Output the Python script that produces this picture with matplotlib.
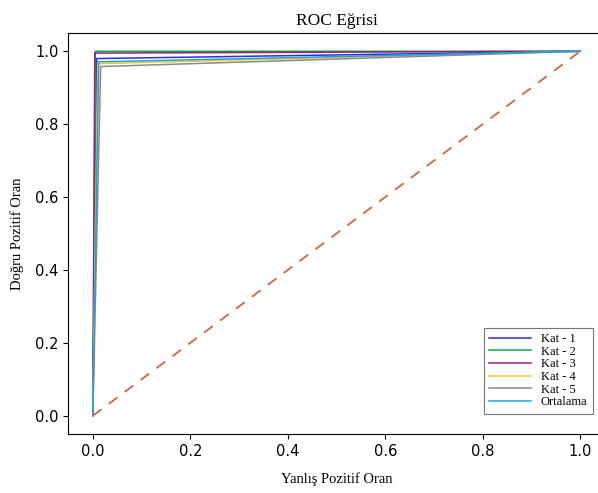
import matplotlib
matplotlib.use("Agg")
import matplotlib.pyplot as plt

# ROC noktalari: (0,0) -> (fpr, tpr) -> (1,1)
etiketler = ["Kat - 1", "Kat - 2", "Kat - 3", "Kat - 4", "Kat - 5", "Ortalama"]
fpr_list = [[0.0, 0.008, 1.0],
            [0.0, 0.005, 1.0],
            [0.0, 0.004, 1.0],
            [0.0, 0.010, 1.0],
            [0.0, 0.016, 1.0],
            [0.0, 0.012, 1.0]]
tpr_list = [[0.0, 0.980, 1.0],
            [0.0, 1.000, 1.0],
            [0.0, 0.995, 1.0],
            [0.0, 0.966, 1.0],
            [0.0, 0.958, 1.0],
            [0.0, 0.971, 1.0]]
renkler = ["#2b2bf0", "#10a84a", "#98206e", "#f5c82a", "#8a8a8a", "#1aa3e0"]

fig = plt.figure(figsize=(5.98, 4.93), dpi=100)
ax = fig.add_axes([0.1145, 0.1197, 0.8965, 0.8133])

for f, t, c, e in zip(fpr_list, tpr_list, renkler, etiketler):
    ax.plot(f, t, color=c, lw=1.1, label=e)

ax.plot([0, 1], [0, 1], linestyle=(0, (6, 5)), color="#d2643f", lw=1.3)

serif = ["Liberation Serif", "DejaVu Serif"]
ax.set_title("ROC Eğrisi", family=serif, fontsize=12.5, pad=6)
ax.set_xlabel("Yanlış Pozitif Oran", family=serif, fontsize=10.5, labelpad=10)
ax.set_ylabel("Doğru Pozitif Oran", family=serif, fontsize=10.5, labelpad=8)

ax.set_xticks([0, 0.2, 0.4, 0.6, 0.8, 1.0])
ax.set_yticks([0, 0.2, 0.4, 0.6, 0.8, 1.0])
ax.tick_params(labelsize=10.5)
ax.spines["right"].set_visible(False)  # resim sagdan kirpilmis

leg = ax.legend(loc="lower right", bbox_to_anchor=(0.978, 0.05), borderaxespad=0,
                prop={"family": serif, "size": 9}, fancybox=False,
                handlelength=3.3, labelspacing=0.05, borderpad=0.45,
                handletextpad=0.8)
leg.get_frame().set_edgecolor("#555555")
leg.get_frame().set_linewidth(0.8)

fig.savefig("out.png", dpi=100)
